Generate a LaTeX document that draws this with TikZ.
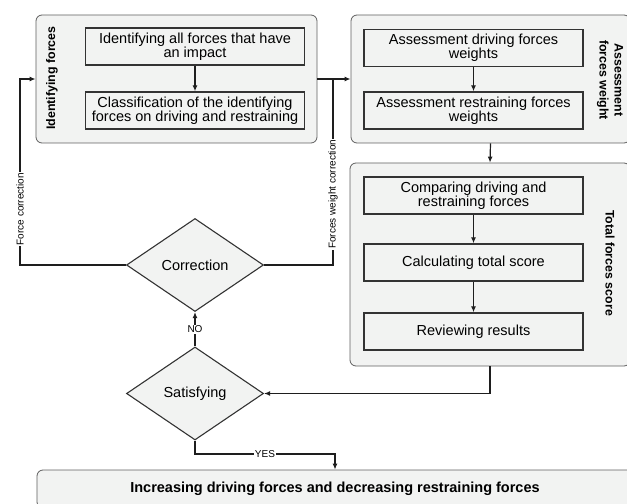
\documentclass[tikz,border=0pt]{standalone}
\usepackage{fontspec}
\setmainfont{Liberation Sans}
\usetikzlibrary{shapes.geometric,arrows.meta}
\definecolor{boxfill}{RGB}{242,243,242}
\definecolor{boxline}{RGB}{51,51,51}
\definecolor{grpline}{RGB}{95,95,95}
\definecolor{conncol}{RGB}{30,30,30}
\begin{document}
\begin{tikzpicture}[x=1bp,y=-1bp,
  grp/.style={draw=grpline, line width=0.8bp, fill=boxfill, rounded corners=6bp, inner sep=0pt},
  inbox/.style={draw=boxline, line width=1.4bp, fill=boxfill, align=center,
     font=\fontsize{14.5bp}{14bp}\selectfont, minimum height=37bp, minimum width=219bp, inner sep=0pt},
  dia/.style={diamond, draw=boxline, line width=1.1bp, fill=boxfill, inner sep=0pt,
     font=\fontsize{14.5bp}{14bp}\selectfont, minimum width=137bp, minimum height=93bp},
  conn/.style={draw=conncol, line width=1.2bp},
  arr/.style={conn, -{Latex[length=6bp,width=5bp]}},
  lbl/.style={font=\fontsize{10bp}{11bp}\selectfont, fill=white, inner sep=0.8bp},
  glabel/.style={font=\bfseries\fontsize{12.4bp}{15bp}\selectfont, align=center, inner sep=0pt}
]
\useasboundingbox (0,0) rectangle (627,504);

% groups
\node[grp, minimum width=281bp, minimum height=128bp] (g1) at (176.5,79) {};
\node[grp, minimum width=279bp, minimum height=128bp] (g2) at (490.5,79) {};
\node[grp, minimum width=280bp, minimum height=203bp] (g3) at (490,264.5) {};
\node[grp, minimum width=596bp, minimum height=38bp, font=\bfseries\fontsize{14.5bp}{14bp}\selectfont] (big) at (335,489) {Increasing driving forces and decreasing restraining forces};

% group labels
\node[glabel, rotate=90] (l1) at (52,78) {Identifying forces};
\node[glabel, rotate=-90] (l2) at (610,80) {Assessment\\forces weight};
\node[glabel, rotate=-90] (l3) at (610,263) {Total forces score};

% inner boxes
\node[inbox] (b11) at (195,46.5) {Identifying all forces that have\\an impact};
\node[inbox] (b12) at (195,110.5) {Classification of the identifying\\forces on driving and restraining};
\node[inbox] (b21) at (473.5,48) {Assessment driving forces\\weights};
\node[inbox] (b22) at (473.5,110.5) {Assessment restraining forces\\weights};
\node[inbox] (b31) at (473.5,195.5) {Comparing driving and\\restraining forces};
\node[inbox] (b32) at (473.5,262.5) {Calculating total score};
\node[inbox] (b33) at (473.5,331.5) {Reviewing results};

% decisions
\node[dia] (corr) at (195,265) {Correction};
\node[dia] (sat) at (195,393.5) {Satisfying};

% helper coordinates
\coordinate (cL) at (20,265);
\coordinate (cR) at (333,265);
\coordinate (jn) at (333,79);
\coordinate (cY) at (195,454);

% connectors
\draw[arr] (b11) -- (b12);
\draw[arr] (b21) -- (b22);
\draw[arr] (b31) -- (b32);
\draw[arr] (b32) -- (b33);
\draw[arr] (g1.east) -- (g2.west);
\draw[arr] (g2.south) -- (g3.north);
\draw[arr] (g3.south) |- (sat.east);
\draw[arr] (sat.north) -- node[lbl] (no) {NO} (corr.south);
\draw[arr] (corr.west) -- (cL) |- node[lbl, rotate=90, pos=0.15] (fc) {Force correction} (g1.west);
\draw[conn] (corr.east) -- (cR) -- node[lbl, rotate=90, pos=0.38] (fwc) {Forces weight correction} (jn);
\draw[arr] (sat.south) -- (cY) -| node[lbl, pos=0.25] (yes) {YES} (big.north);
\end{tikzpicture}
\end{document}
